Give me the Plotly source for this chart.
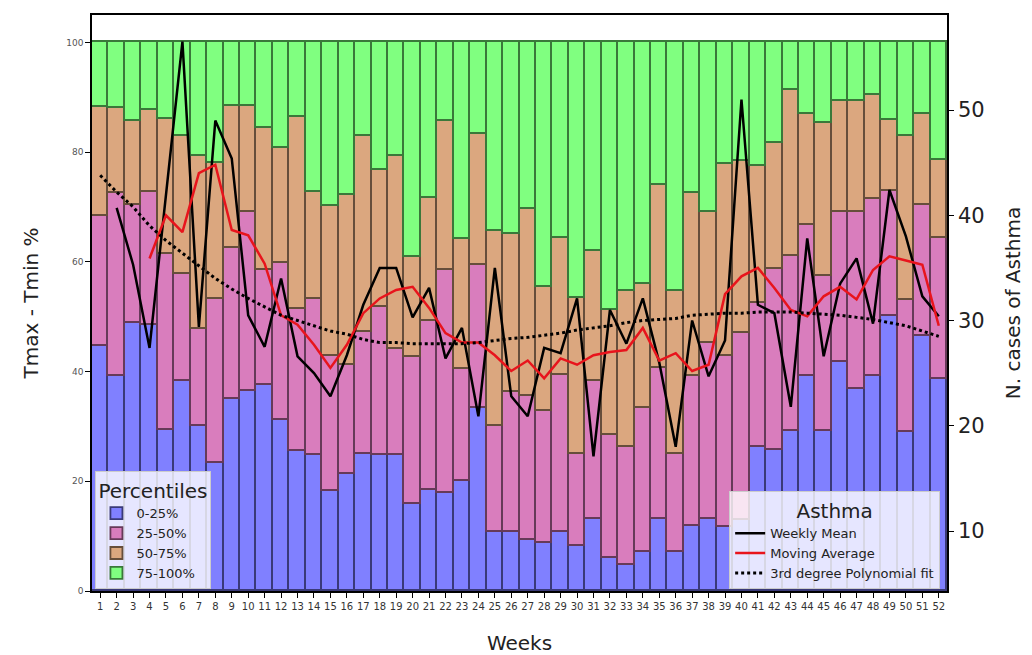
import numpy as np
import plotly.graph_objects as go

weeks = list(range(1, 53))

# cumulative percentile boundaries (%) read per week
p25 = [44.7, 39.2, 48.8, 48.5, 29.4, 38.2, 30.0, 23.4, 35.0, 36.5, 37.6, 31.2, 25.5,
       24.8, 18.2, 21.4, 25.0, 24.8, 24.8, 15.9, 18.4, 17.9, 20.1, 33.3, 10.7, 10.8,
       9.3, 8.8, 10.7, 8.2, 13.1, 6.0, 4.7, 7.1, 13.1, 7.1, 11.9, 13.1, 11.7, 13.0,
       26.3, 25.7, 29.2, 39.2, 29.2, 41.7, 36.9, 39.2, 50.1, 28.9, 46.4, 38.6]
p50 = [68.3, 72.6, 70.4, 72.8, 61.5, 57.8, 47.8, 53.2, 62.5, 69.0, 58.6, 59.8, 51.4,
       53.2, 42.8, 41.2, 47.3, 51.8, 44.1, 42.6, 49.3, 58.6, 40.5, 59.5, 30.0, 36.3,
       35.5, 32.9, 39.3, 25.0, 38.2, 28.5, 26.2, 33.3, 40.6, 25.0, 39.2, 45.2, 42.8, 47.0,
       52.5, 58.7, 61.0, 66.8, 57.4, 69.0, 69.0, 71.5, 72.9, 53.0, 70.3, 64.4]
p75 = [88.3, 88.1, 85.6, 87.6, 86.1, 82.9, 79.3, 78.0, 88.4, 88.4, 84.4, 80.8, 86.4,
       72.7, 70.1, 72.1, 82.9, 76.8, 79.3, 60.9, 71.7, 85.6, 64.2, 83.3, 65.6, 65.1,
       69.7, 55.5, 64.4, 53.5, 61.9, 51.3, 54.6, 56.0, 74.0, 54.6, 72.6, 69.1, 77.9, 78.3,
       77.4, 81.7, 91.4, 87.0, 85.3, 89.3, 89.3, 90.5, 85.8, 83.0, 86.9, 78.6]

weekly_mean = [None, 40.7, 35.3, 27.4, 41.8, 56.5, 29.4, 49.0, 45.4, 30.5, 27.5, 34.0, 26.6,
               25.0, 22.8, 26.7, 31.5, 35.0, 35.0, 30.3, 33.1, 26.4, 29.3, 20.9, 35.0, 22.8,
               20.9, 27.4, 26.9, 32.1, 17.1, 31.0, 27.8, 32.1, 26.0, 18.0, 30.0, 24.7, 28.1, 51.0,
               31.5, 30.7, 21.8, 37.8, 26.6, 33.5, 35.9, 29.7, 42.4, 38.0, 32.3, 30.4]
moving_avg = [None, None, None, 35.9, 40.0, 38.4, 44.0, 44.8, 38.6, 38.1, 35.4, 30.5, 29.6,
              27.7, 25.5, 27.7, 30.7, 32.1, 32.9, 33.2, 31.2, 28.8, 27.9, 27.9, 26.7, 25.2,
              26.2, 24.5, 26.4, 25.8, 26.7, 27.0, 27.2, 29.3, 26.2, 26.9, 25.2, 25.8, 32.5, 34.2,
              35.0, 33.1, 31.0, 30.4, 32.3, 33.2, 32.0, 34.8, 36.1, 35.7, 35.3, 29.5]
poly_fit = [43.8, 42.2, 40.8, 39.0, 37.6, 36.4, 35.2, 34.0, 33.0, 32.1, 31.3, 30.5, 30.0,
            29.5, 29.0, 28.7, 28.2, 27.9, 27.9, 27.8, 27.8, 27.8, 27.8, 27.9, 28.1, 28.3,
            28.4, 28.6, 28.8, 29.1, 29.3, 29.5, 29.8, 30.0, 30.1, 30.2, 30.5, 30.6, 30.7, 30.7,
            30.8, 30.8, 30.8, 30.7, 30.6, 30.5, 30.3, 30.1, 29.8, 29.5, 29.0, 28.5]

p25, p50, p75 = np.array(p25), np.array(p50), np.array(p75)
segments = [
    ('0-25%', p25, '#8080ff', '#3a3a78'),
    ('25-50%', p50 - p25, '#d97dbd', '#663a59'),
    ('50-75%', p75 - p50, '#dba77f', '#664e3b'),
    ('75-100%', 100 - p75, '#80ff80', '#3a783a'),
]

font = 'DejaVu Sans'
fig = go.Figure()
for name, vals, col, edge in segments:
    fig.add_trace(go.Bar(x=weeks, y=vals, name=name, marker_color=col,
                         marker_line=dict(color=edge, width=1.8), legend='legend'))

fig.add_trace(go.Scatter(x=weeks, y=weekly_mean, name='Weekly Mean', mode='lines',
                         line=dict(color='black', width=2.5), yaxis='y2', legend='legend2'))
fig.add_trace(go.Scatter(x=weeks, y=moving_avg, name='Moving Average', mode='lines',
                         line=dict(color='#e8141c', width=2.5), yaxis='y2', legend='legend2'))
fig.add_trace(go.Scatter(x=weeks, y=poly_fit, name='3rd degree Polynomial fit', mode='lines',
                         line=dict(color='black', width=3, dash='dot'), yaxis='y2', legend='legend2'))

# the page body adds an 8px offset, so margins are shifted to compensate
fig.update_layout(
    width=1032, height=655,
    margin=dict(l=84, r=93, t=7, b=72),
    barmode='stack', bargap=0,
    plot_bgcolor='white', paper_bgcolor='white',
    font=dict(family=font, color='#222'),
    xaxis=dict(range=[0.5, 52.5], tickvals=weeks, ticks='outside', ticklen=5,
               tickcolor='black', tickfont=dict(size=10, color='#333'),
               showline=True, linecolor='black', linewidth=1.5, mirror=True,
               showgrid=False, automargin=False,
               title=dict(text='Weeks', font=dict(size=20), standoff=25)),
    yaxis=dict(range=[0, 105], tickvals=[0, 20, 40, 60, 80, 100], ticks='outside', ticklen=5,
               tickcolor='black', tickfont=dict(size=9, color='#555'), automargin=False,
               showline=True, linecolor='black', linewidth=1.5, showgrid=False, zeroline=False,
               title=dict(text='Tmax - Tmin %', font=dict(size=20), standoff=22)),
    yaxis2=dict(range=[4.3, 59.03], tickvals=[10, 20, 30, 40, 50], overlaying='y', side='right',
                ticks='outside', ticklen=5, tickcolor='black', tickfont=dict(size=21, color='#222'),
                showline=True, linecolor='black', linewidth=1.5, showgrid=False, zeroline=False,
                automargin=False,
                title=dict(text='N. cases of Asthma', font=dict(size=20), standoff=22)),
    legend=dict(x=0.004, y=0.003, xanchor='left', yanchor='bottom', traceorder='normal',
                bgcolor='rgba(255,255,255,0.8)', bordercolor='#ccc', borderwidth=1,
                font=dict(size=13), title=dict(text='Percentiles', font=dict(size=20))),
    legend2=dict(x=0.992, y=0.003, xanchor='right', yanchor='bottom', traceorder='normal',
                 bgcolor='rgba(255,255,255,0.8)', bordercolor='#ccc', borderwidth=1,
                 font=dict(size=13), title=dict(text='Asthma', font=dict(size=20), side='top center')),
)

fig.write_html('out.html')
